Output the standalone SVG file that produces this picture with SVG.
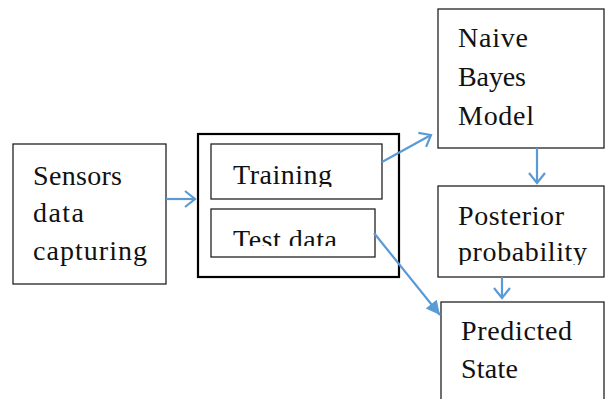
<svg xmlns="http://www.w3.org/2000/svg" width="606" height="399" viewBox="0 0 606 399">
<style>
.box{fill:#fff;stroke:#222;stroke-width:1.3}
.outer{fill:#fff;stroke:#000;stroke-width:2.2}
.t{font-family:"Liberation Serif","Times New Roman",serif;font-size:28px;fill:#111}
.c{fill:none;stroke:#5B9BD5;stroke-width:2.2}
</style>
<defs>
<marker id="open" markerUnits="userSpaceOnUse" markerWidth="24" markerHeight="24" viewBox="-12 -12 24 24" refX="0" refY="0" orient="auto">
<path d="M-10,-8 L0,0 L-10,8" fill="none" stroke="#5B9BD5" stroke-width="2.2"/>
</marker>
<marker id="solid" markerUnits="userSpaceOnUse" markerWidth="24" markerHeight="24" viewBox="-16 -12 24 24" refX="0" refY="0" orient="auto">
<path d="M-14,-7 L0,0 L-14,7 Z" fill="#5B9BD5"/>
</marker>
<clipPath id="clipTrain"><rect x="211" y="144" width="171" height="43"/></clipPath>
<clipPath id="clipTest"><rect x="211" y="209" width="164" height="37"/></clipPath>
<clipPath id="clipPost"><rect x="438" y="186" width="168" height="79"/></clipPath>
</defs>
<g id="sensors">
<rect class="box" x="13" y="144" width="153" height="140"/>
<text class="t" x="33" y="185" textLength="89">Sensors</text>
<text class="t" x="33" y="222" textLength="51">data</text>
<text class="t" x="33" y="260" textLength="114">capturing</text>
</g>
<g id="split">
<rect class="outer" x="198" y="134" width="201" height="143"/>
</g>
<g id="training">
<rect class="box" x="211" y="144" width="171" height="55"/>
<text class="t" x="233" y="184" textLength="99" clip-path="url(#clipTrain)">Training</text>
</g>
<g id="testdata">
<rect class="box" x="211" y="209" width="164" height="48"/>
<text class="t" x="233" y="249" textLength="104" clip-path="url(#clipTest)">Test data</text>
</g>
<g id="naivebayes">
<rect class="box" x="438" y="9" width="166" height="139"/>
<text class="t" x="458" y="47" textLength="70">Naive</text>
<text class="t" x="458" y="86" textLength="68">Bayes</text>
<text class="t" x="458" y="125" textLength="76">Model</text>
</g>
<g id="posterior">
<rect class="box" x="438" y="186" width="166" height="91"/>
<text class="t" x="458" y="225" textLength="106" clip-path="url(#clipPost)">Posterior</text>
<text class="t" x="458" y="261" textLength="129" clip-path="url(#clipPost)">probability</text>
</g>
<g id="predicted">
<rect class="box" x="441" y="302" width="163" height="110"/>
<text class="t" x="461" y="340" textLength="111">Predicted</text>
<text class="t" x="461" y="378" textLength="57">State</text>
</g>
<g id="connectors">
<line class="c" x1="166" y1="199" x2="195" y2="199" marker-end="url(#open)"/>
<line class="c" x1="382" y1="162" x2="431" y2="135" marker-end="url(#open)"/>
<line class="c" x1="374" y1="233" x2="440" y2="315" marker-end="url(#solid)"/>
<line class="c" x1="537" y1="148" x2="537" y2="183" marker-end="url(#open)"/>
<line class="c" x1="502" y1="277" x2="502" y2="298" marker-end="url(#open)"/>
</g>
</svg>
